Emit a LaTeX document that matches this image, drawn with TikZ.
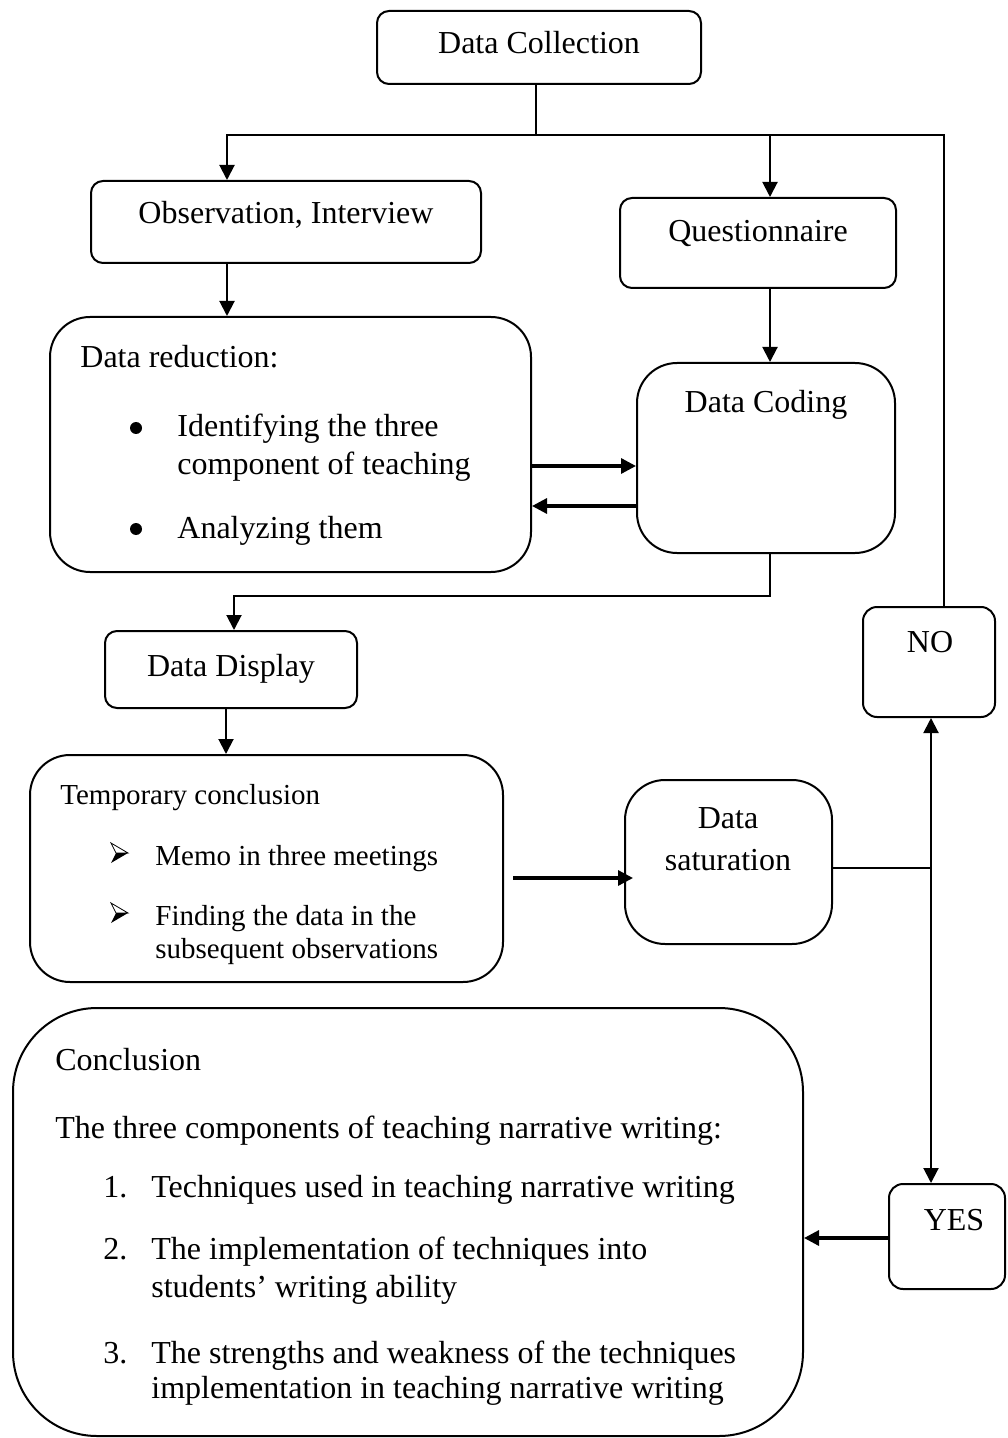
\documentclass[tikz,border=0pt]{standalone}
\usepackage{fontspec}
\setmainfont{Liberation Serif}
\usetikzlibrary{arrows.meta,fit}
\begin{document}
\begin{tikzpicture}[x=0.5pt,y=-0.5pt,
  box/.style={draw, line width=1pt, rounded corners=#1, inner sep=0pt},
  box/.default=6pt,
  txt/.style={font=\fontsize{16}{19}\selectfont, inner sep=0pt, anchor=base west},
  ctxt/.style={txt, anchor=base},
  small/.style={font=\fontsize{14.5}{17}\selectfont, inner sep=0pt, anchor=base west},
  dot/.style={circle, fill, inner sep=0pt, minimum size=6pt},
  ln/.style={line width=1pt},
  arr/.style={ln, -{Triangle[length=7.5pt,width=7.5pt]}},
  tarr/.style={line width=1.6pt, -{Triangle[length=7.5pt,width=7.5pt]}},
  memoarrow/.pic={
    \draw[line width=0.4pt, line join=miter] (-8,-10) -- (9,0) -- (-3,0) -- cycle;
    \fill (-3,0) -- (9,0) -- (-8,10) -- cycle;
  }]
\useasboundingbox (0,0) rectangle (1007,1438);

% boxes
\node[box, fit={(377,11) (701,84)}] (dc) {};
\node[box, fit={(91,181) (481,263)}] (obs) {};
\node[box, fit={(620,198) (896,288)}] (q) {};
\node[box=20pt, fit={(50,317) (531,572)}] (red) {};
\node[box=20pt, fit={(637,363) (895,553)}] (cod) {};
\node[box, fit={(105,631) (357,708)}] (disp) {};
\node[box=7pt, fit={(863,607) (995,717)}] (no) {};
\node[box=20pt, fit={(30,755) (503,982)}] (tmp) {};
\node[box=20pt, fit={(625,780) (832,944)}] (sat) {};
\node[box=42pt, fit={(13,1008) (803,1436)}] (conc) {};
\node[box=7pt, fit={(889,1184) (1005,1289)}] (yes) {};

% texts
\node[ctxt] (tdc) at (539,54) {Data Collection};
\node[ctxt] (tobs) at (286,224) {Observation, Interview};
\node[ctxt] (tq) at (758,242) {Questionnaire};
\node[txt] (tred) at (80,368) {Data reduction:};
\node[dot] (b1) at (136,428) {};
\node[txt] (r1) at (177,437) {Identifying the three};
\node[txt] (r2) at (177,474) {component of teaching};
\node[dot] (b2) at (136,529) {};
\node[txt] (r3) at (177,538) {Analyzing them};
\node[ctxt] (tcod) at (766,413) {Data Coding};
\node[ctxt] (tdisp) at (231,676) {Data Display};
\node[ctxt] (tno) at (930,652) {NO};
\node[small] (ttmp) at (60,804) {Temporary conclusion};
\pic (a1) at (119,853) {memoarrow};
\node[small] (m1) at (155,865) {Memo in three meetings};
\pic (a2) at (119,913) {memoarrow};
\node[small] (m2) at (155,925) {Finding the data in the};
\node[small] (m3) at (155,958) {subsequent observations};
\node[ctxt] (ts1) at (728,828) {Data};
\node[ctxt] (ts2) at (728,870) {saturation};
\node[ctxt] (tyes) at (954,1230) {YES};
\node[txt] (tc0) at (55,1070) {Conclusion};
\node[txt] (tc1) at (55,1138) {The three components of teaching narrative writing:};
\node[txt] (n1) at (103,1197) {1.};
\node[txt] (c1) at (151,1197) {Techniques used in teaching narrative writing};
\node[txt] (n2) at (103,1259) {2.};
\node[txt] (c2) at (151,1259) {The implementation of techniques into};
\node[txt] (c3) at (151,1297) {students’ writing ability};
\node[txt] (n3) at (103,1363) {3.};
\node[txt] (c4) at (151,1363) {The strengths and weakness of the techniques};
\node[txt] (c5) at (151,1398) {implementation in teaching narrative writing};

% connectors
\coordinate (j1) at (536,135);
\coordinate (j3) at (931,868);
\draw[ln] ([xshift=-1.5pt]dc.south) -- (j1);
\draw[arr] (j1) -| ([xshift=68.5pt]obs.north west);
\draw[arr] (j1) -| ([xshift=75.5pt]q.north west);
\draw[ln] (j1) -| ([xshift=41pt]no.north west);
\draw[arr] ([xshift=68.5pt]obs.south west) -- ([xshift=68.5pt]obs.south west |- red.north);
\draw[arr] ([xshift=75.5pt]q.south west) -- ([xshift=75.5pt]q.south west |- cod.north);
\draw[tarr] ([yshift=-10.75pt]red.east) -- ([yshift=-10.75pt]red.east -| cod.west);
\draw[tarr] ([yshift=-30.75pt]red.east -| cod.west) -- ([yshift=-30.75pt]red.east);
\draw[arr] ([xshift=67pt]cod.south west) -- ++(0,-21pt) -| ([xshift=65pt]disp.north west);
\draw[arr] ([xshift=61pt]disp.south west) -- ([xshift=61pt]disp.south west |- tmp.north);
\draw[tarr] ([xshift=4.5pt,yshift=-4.75pt]tmp.east) -- ([xshift=4.5pt,yshift=-4.75pt]tmp.east -| sat.west);
\draw[ln] ([yshift=-3pt]sat.east) -- (j3);
\draw[arr] (j3) -- (j3 |- no.south);
\draw[arr] (j3) -- (j3 |- yes.north);
\draw[tarr] ([yshift=-0.75pt]yes.west) -- ([yshift=-0.75pt]yes.west -| conc.east);
\end{tikzpicture}
\end{document}
